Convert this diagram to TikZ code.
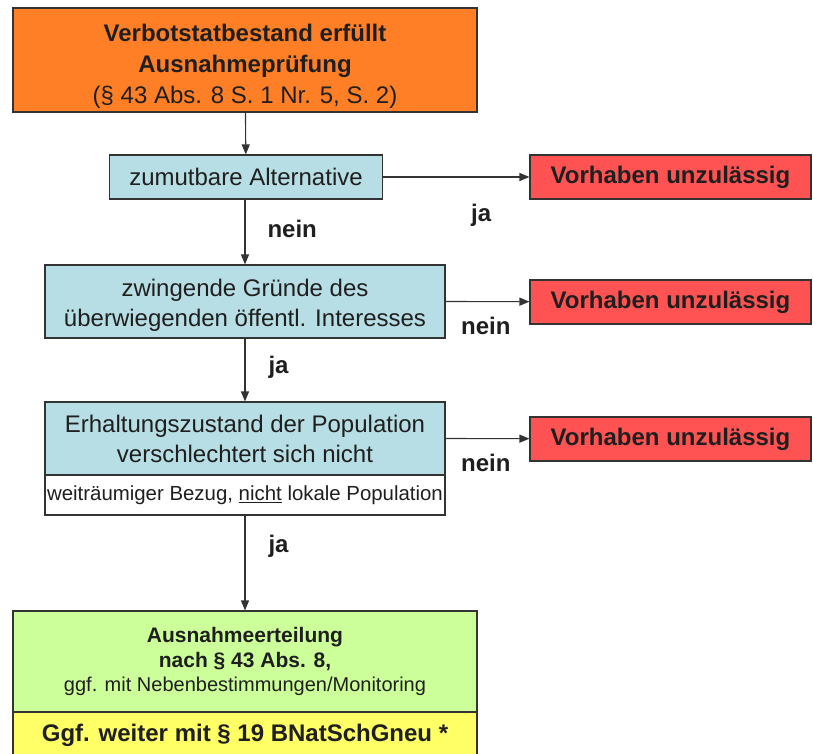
\documentclass[tikz,border=0pt]{standalone}
\usepackage{fontspec}
\setmainfont{Liberation Sans}
\usetikzlibrary{arrows.meta, positioning}
\definecolor{verbotorange}{RGB}{255,127,39}
\definecolor{checkblue}{RGB}{183,222,228}
\definecolor{stopred}{RGB}{255,82,82}
\definecolor{okgreen}{RGB}{204,255,153}
\definecolor{notyellow}{RGB}{255,255,102}

\begin{document}
\begin{tikzpicture}[
    x=1pt, y=-1pt,
    box/.style={draw=black!80, line width=1.1pt, inner sep=0pt, align=center, text=black!88, font=\fontsize{24}{30}\selectfont},
    start/.style={box, fill=verbotorange, minimum width=464pt, minimum height=104pt, font=\fontsize{24}{31}\selectfont},
    check/.style={box, fill=checkblue, minimum width=400pt, minimum height=73pt},
    stopbox/.style={box, fill=stopred, minimum width=281pt, minimum height=44pt, font=\bfseries\fontsize{24}{30}\selectfont},
    note/.style={box, fill=white, minimum width=400pt, minimum height=40pt, font=\fontsize{20.4}{24}\selectfont},
    result/.style={box, fill=okgreen, minimum width=464pt, minimum height=101pt, font=\fontsize{20}{24.5}\selectfont},
    further/.style={box, fill=notyellow, minimum width=464pt, minimum height=46pt, font=\bfseries\fontsize{24}{28}\selectfont},
    arr/.style={-{Triangle[length=10pt, width=8pt]}, line width=1.1pt, black!80},
    lbl/.style={font=\bfseries\fontsize{24}{28}\selectfont, text=black!88, inner sep=0pt},
]
\useasboundingbox (0,0) rectangle (813,754);

% ── Main column ──
\node[start] (verbot) at (245,60) {\rule{0pt}{30pt}\textbf{Verbotstatbestand erfüllt}\\\textbf{Ausnahmeprüfung}\\(§ 43 Abs. 8 S. 1 Nr. 5, S. 2)};
\node[check, minimum width=273pt, minimum height=44pt] (alt) at (246,177) {zumutbare Alternative};
\node[check] (gruende) at (245,301.5) {\rule{0pt}{24pt}zwingende Gründe des\\überwiegenden öffentl. Interesses};
\node[check] (erhalt) at (245,438.5) {Erhaltungszustand der Population\\verschlechtert sich nicht};
\node[note] (bezug) at (245,495) {weiträumiger Bezug, \underline{nicht} lokale Population};
\node[result] (ausnahme) at (245,661.5) {\textbf{\fontsize{21}{25}\selectfont Ausnahmeerteilung}\\\textbf{\fontsize{21}{25}\selectfont nach § 43 Abs. 8,}\\ggf. mit Nebenbestimmungen/Monitoring};
\node[further] (weiter) at (245,735) {Ggf. weiter mit § 19 BNatSchGneu *};

% ── Rejections ──
\node[stopbox] (stopA) at (670.5,177) {Vorhaben unzulässig};
\node[stopbox] (stopB) at (670.5,302) {Vorhaben unzulässig};
\node[stopbox] (stopC) at (670.5,439) {Vorhaben unzulässig};

% ── Arrows with labels ──
\draw[arr] (verbot) -- (alt);
\draw[arr] (alt) -- node[lbl, pos=0.67, below=27pt] {ja} (stopA);
\draw[arr] (alt.south -| gruende.north) -- node[lbl, pos=0.45, right=22pt] {nein} (gruende.north);
\draw[arr] (gruende.east) -- node[lbl, pos=0.48, below=15pt] {nein} (stopB);
\draw[arr] (gruende) -- node[lbl, pos=0.45, right=23pt] {ja} (erhalt);
\draw[arr] (erhalt.east) -- node[lbl, pos=0.48, below=15pt] {nein} (stopC);
\draw[arr] (bezug) -- node[lbl, pos=0.32, right=23pt] {ja} (ausnahme);

\end{tikzpicture}
\end{document}
